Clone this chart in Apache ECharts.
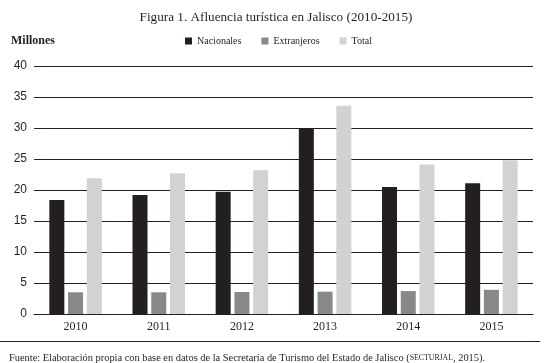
<!DOCTYPE html>
<html>
<head>
<meta charset="utf-8">
<script src="https://cdn.jsdelivr.net/npm/echarts@6/dist/echarts.min.js"></script>
<style>html,body{margin:0;padding:0;background:#fff;}#c{width:548px;height:363px;}</style>
</head>
<body>
<div id="c"></div>
<script>
var years = ['2010', '2011', '2012', '2013', '2014', '2015'];
var nacionales = [18.4, 19.2, 19.7, 30.0, 20.5, 21.1];
var extranjeros = [3.5, 3.5, 3.55, 3.6, 3.7, 3.9];
var total = [21.9, 22.7, 23.2, 33.6, 24.1, 24.8];
var yTicks = { min: 0, max: 40, interval: 5 };

var serif = 'Liberation Serif';
var chart = echarts.init(document.getElementById('c'), null, { renderer: 'canvas' });
function bar(name, data, color) {
  return { name: name, type: 'bar', data: data, barWidth: 15, barGap: '25%',
    itemStyle: { color: color }, emphasis: { disabled: true } };
}
chart.setOption({
  animation: false,
  backgroundColor: '#ffffff',
  title: [
    { text: 'Figura 1. Afluencia turística en Jalisco (2010-2015)', left: 271, textAlign: 'center', top: 6,
      textStyle: { fontFamily: serif, fontSize: 13.2, fontWeight: 'normal', color: '#231f20' } },
    { text: 'Millones', left: 6, top: 30,
      textStyle: { fontFamily: serif, fontSize: 12, fontWeight: 'bold', color: '#231f20' } },
    { text: '{a|Fuente: Elaboración propia con base en datos de la Secretaría de Turismo del Estado de Jalisco (}{b|SECTURJAL}{a|, 2015).}',
      left: 4, top: 348,
      textStyle: { fontWeight: 'normal', rich: {
        a: { fontFamily: serif, fontSize: 10.4, fontWeight: 'normal', color: '#231f20' },
        b: { fontFamily: serif, fontSize: 7.8, fontWeight: 'normal', color: '#231f20' } } } }
  ],
  legend: {
    data: ['Nacionales', 'Extranjeros', 'Total'],
    left: 180, top: 31, itemWidth: 7, itemHeight: 7, itemGap: 20, icon: 'rect',
    textStyle: { fontFamily: serif, fontSize: 10, color: '#231f20' }
  },
  grid: { left: 34, right: 15, top: 66, bottom: 49, containLabel: false },
  xAxis: {
    type: 'category', data: years,
    axisLine: { lineStyle: { color: '#231f20', width: 1 } },
    axisTick: { show: false },
    axisLabel: { fontFamily: serif, fontSize: 12, color: '#231f20', margin: 7 }
  },
  yAxis: {
    type: 'value', min: yTicks.min, max: yTicks.max, interval: yTicks.interval,
    axisLine: { show: false }, axisTick: { show: false },
    axisLabel: { fontFamily: 'Liberation Sans', fontSize: 12, color: '#231f20', margin: 7 },
    splitLine: { lineStyle: { color: '#231f20', width: 1 } }
  },
  graphic: [
    { type: 'line', shape: { x1: 0, y1: 341.5, x2: 540, y2: 341.5 }, style: { stroke: '#231f20', lineWidth: 1 } }
  ],
  series: [
    bar('Nacionales', nacionales, '#231f20'),
    bar('Extranjeros', extranjeros, '#87888a'),
    bar('Total', total, '#d1d2d4')
  ]
});
</script>
</body>
</html>
